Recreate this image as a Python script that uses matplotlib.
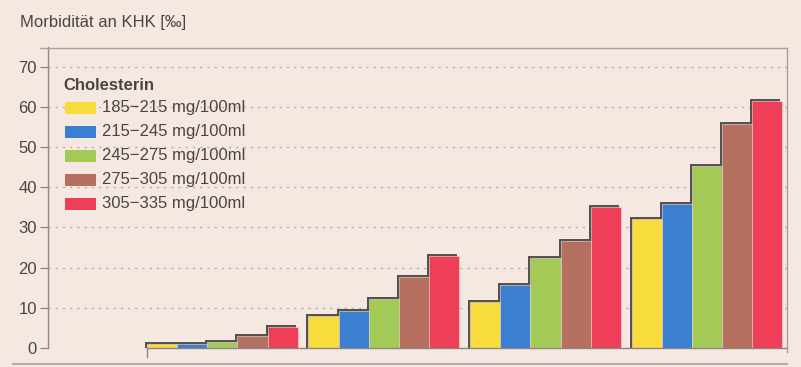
import matplotlib.pyplot as plt
from matplotlib.lines import Line2D
from matplotlib.patches import Rectangle
import numpy as np

plt.rcParams['font.family'] = ['Liberation Sans', 'DejaVu Sans']

# Morbidität an KHK [‰] je Cholesterin-Klasse, vier Gruppen
groups = [0, 1, 2, 3]
chol_labels = ['185−215 mg/100ml', '215−245 mg/100ml', '245−275 mg/100ml',
               '275−305 mg/100ml', '305−335 mg/100ml']
chol_185 = [1.1, 8.0, 11.5, 32.0]
chol_215 = [0.9, 9.3, 15.7, 35.8]
chol_245 = [1.5, 12.3, 22.3, 45.3]
chol_275 = [2.9, 17.6, 26.7, 55.6]
chol_305 = [5.2, 22.8, 35.0, 61.5]
series = [chol_185, chol_215, chol_245, chol_275, chol_305]
y_ticks = [0, 10, 20, 30, 40, 50, 60, 70]

colors = ['#f7dc3c', '#3a7fd0', '#a3c957', '#b5705f', '#ee3e58']
bg = '#f5e8e1'
shadow = '#585151'
frame = '#a89f9d'

W, H = 801, 367
fig = plt.figure(figsize=(W / 100, H / 100), dpi=100, facecolor=bg)


def fx(px):
    return px / W


def fy(py):
    return 1 - py / H


ax = fig.add_axes([fx(48), fy(348), fx(787) - fx(48), fy(47.5) - fy(348)])
ax.set_facecolor(bg)

group_step = 5.35
bar_w = 1.0
ax.set_xlim(-3.775, 20.70)
ax.set_ylim(0, (348 - 47.5) / 4.02)

# px -> data offsets for the drop shadow (up and to the left)
dx = 2.0 / 30.2
dy = 2.0 / 4.02

x_base = np.array(groups) * group_step
for j, vals in enumerate(series):
    xs = x_base + j * bar_w
    ax.bar(xs - dx, np.array(vals) + dy, width=bar_w, color=shadow, zorder=2)
for j, vals in enumerate(series):
    xs = x_base + j * bar_w
    ax.bar(xs, vals, width=bar_w, color=colors[j], zorder=3,
           edgecolor='#f3e2da', linewidth=0.4)

# dotted grid
for yv in y_ticks[1:]:
    ax.axhline(yv, color='#b8aeac', lw=1.0, ls=(0, (1.6, 3.6)), zorder=1)

# axes frame
for s in ['top', 'bottom', 'right']:
    ax.spines[s].set_visible(False)
ax.spines['left'].set_color('#8f8584')
ax.spines['left'].set_linewidth(1.0)

ax.set_yticks(y_ticks)
ax.set_yticklabels([str(v) for v in y_ticks], fontsize=12, color='#4a4444')
ax.tick_params(axis='y', direction='out', length=6, width=0.9, color='#8f8584', pad=2)
ax.set_xticks([])

# baseline starting at the first bar, small tick below it
x0 = x_base[0] - bar_w / 2
ax.plot([x0, 20.70], [0, 0], color='#8f8584', lw=1.0, zorder=4, clip_on=False)
ax.plot([x0, x0], [0, -2.2], color='#8f8584', lw=1.0, zorder=4, clip_on=False)

# top and right frame lines, page rule below
fig.add_artist(Line2D([fx(40), fx(787)], [fy(47.5), fy(47.5)], color=frame, lw=1.0))
fig.add_artist(Line2D([fx(787), fx(787)], [fy(47.5), fy(352)], color=frame, lw=1.0))
fig.add_artist(Line2D([fx(13), fx(787)], [fy(364), fy(364)], color='#aaa3a2', lw=1.3))

fig.text(fx(20), fy(23), 'Morbidität an KHK [‰]', fontsize=12, color='#4a4444',
         va='center', ha='left')

# legend
fig.text(fx(63), fy(85), 'Cholesterin', fontsize=12, fontweight='bold',
         color='#4a4444', va='center', ha='left')
for j, lab in enumerate(chol_labels):
    yc = 107.5 + 24.1 * j
    fig.add_artist(Rectangle((fx(65), fy(yc + 6)), fx(31), fy(yc - 6) - fy(yc + 6),
                             transform=fig.transFigure, facecolor=colors[j],
                             edgecolor='none'))
    fig.text(fx(102), fy(yc), lab, fontsize=12, color='#4a4444',
             va='center', ha='left')

fig.savefig('out.png', dpi=100, facecolor=bg)
